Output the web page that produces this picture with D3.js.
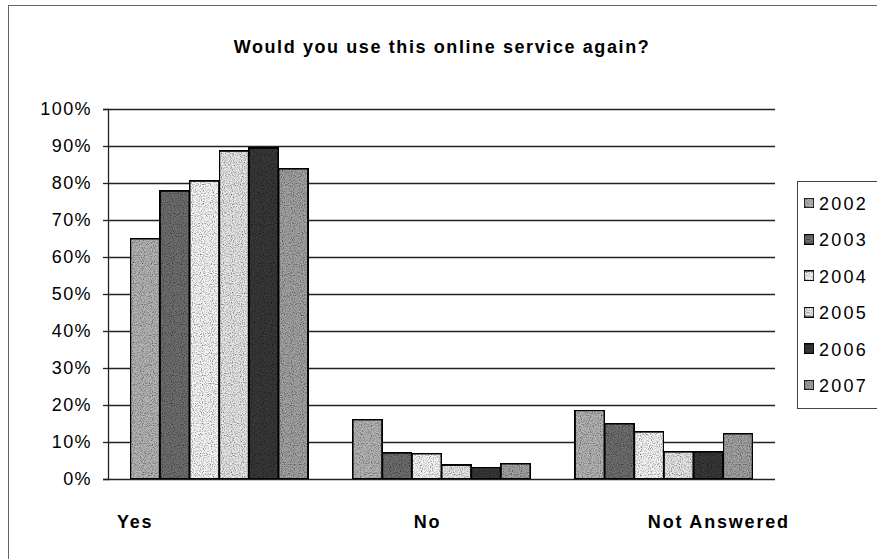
<!DOCTYPE html>
<html>
<head>
<meta charset="utf-8">
<script src="https://cdn.jsdelivr.net/npm/d3@7/dist/d3.min.js"></script>
<style>
  html, body { margin: 0; padding: 0; background: #fff; }
  svg { display: block; }
  text { font-family: "Liberation Sans", Arial, sans-serif; fill: #000; }
</style>
</head>
<body>
<svg id="chart" width="877" height="559"></svg>
<script>
// ---- data ----
const categories = ["Yes", "No", "Not Answered"];
const years = ["2002", "2003", "2004", "2005", "2006", "2007"];
const values2002 = [0.650, 0.161, 0.186];
const values2003 = [0.779, 0.071, 0.150];
const values2004 = [0.806, 0.069, 0.128];
const values2005 = [0.887, 0.038, 0.074];
const values2006 = [0.895, 0.032, 0.074];
const values2007 = [0.839, 0.042, 0.123];
const yTicks = [0, 0.1, 0.2, 0.3, 0.4, 0.5, 0.6, 0.7, 0.8, 0.9, 1.0];
const title = "Would you use this online service again?";

const seriesValues = [values2002, values2003, values2004, values2005, values2006, values2007];
const fills = ["#b4b4b4", "#6e6e6e", "#f6f6f6", "#e6e6e6", "#383838", "#a2a2a2"];

const svg = d3.select("#chart");

// grain filter to imitate the stippled scan
const defs = svg.append("defs");
const f = defs.append("filter").attr("id", "grain").attr("x", 0).attr("y", 0).attr("width", 1).attr("height", 1);
f.append("feTurbulence").attr("type", "fractalNoise").attr("baseFrequency", 0.9).attr("numOctaves", 1).attr("seed", 3).attr("result", "noise");
f.append("feColorMatrix").attr("in", "noise").attr("type", "matrix")
  .attr("values", "0 0 0 0 0  0 0 0 0 0  0 0 0 0 0  0 0 0 -2.2 1.25").attr("result", "dots");
f.append("feComposite").attr("in", "dots").attr("in2", "SourceGraphic").attr("operator", "in").attr("result", "dotsIn");
f.append("feComposite").attr("in", "dotsIn").attr("in2", "SourceGraphic").attr("operator", "over");

// outer frame
svg.append("rect").attr("x", 8.5).attr("y", 5.5).attr("width", 900).attr("height", 600)
  .attr("fill", "none").attr("stroke", "#666").attr("stroke-width", 1);

const plot = { left: 108, right: 775, top: 109, bottom: 479 };

const x0 = d3.scaleBand().domain(categories).range([plot.left, plot.right]).paddingInner(0).paddingOuter(0);
const x1 = d3.scaleBand().domain(years).range([0, x0.bandwidth()]).paddingInner(0).paddingOuter(0.75);
const y = d3.scaleLinear().domain([0, 1]).range([plot.bottom, plot.top]);

// gridlines
svg.append("g").selectAll("line").data(yTicks).join("line")
  .attr("x1", plot.left).attr("x2", plot.right)
  .attr("y1", d => Math.round(y(d)) + 0.5).attr("y2", d => Math.round(y(d)) + 0.5)
  .attr("stroke", "#222").attr("stroke-width", 1.3);

// y axis
const yAxis = d3.axisLeft(y).tickValues(yTicks).tickFormat(d3.format(".0%")).tickSize(5).tickPadding(11);
const gy = svg.append("g").attr("transform", `translate(${plot.left},0)`).call(yAxis);
gy.select(".domain").attr("stroke", "#222").attr("stroke-width", 1.3);
gy.selectAll(".tick line").attr("stroke", "#222").attr("stroke-width", 1.3);
gy.selectAll(".tick text").attr("font-size", 18).attr("letter-spacing", 1.4)
  .attr("font-family", "Liberation Sans, Arial, sans-serif").attr("fill", "#000");

// bars
const groups = svg.append("g").selectAll("g").data(categories).join("g")
  .attr("transform", d => `translate(${x0(d)},0)`);
groups.selectAll("rect").data((c, ci) => years.map((yr, si) => ({ yr, si, v: seriesValues[si][ci] })))
  .join("rect")
  .attr("x", d => x1(d.yr))
  .attr("width", x1.bandwidth())
  .attr("y", d => y(d.v))
  .attr("height", d => y(0) - y(d.v))
  .attr("fill", d => fills[d.si])
  .attr("filter", "url(#grain)")
  .attr("stroke", "#000").attr("stroke-width", 2);

// category labels
const catOffsets = { "Yes": -84, "No": -14, "Not Answered": 55 };
svg.append("g").selectAll("text").data(categories).join("text")
  .attr("x", d => x0(d) + x0.bandwidth() / 2 + catOffsets[d])
  .attr("y", 528)
  .attr("text-anchor", "middle")
  .attr("font-size", 18).attr("font-weight", "bold").attr("letter-spacing", 1.8)
  .text(d => d);

// title
svg.append("text").attr("x", 442).attr("y", 53).attr("text-anchor", "middle")
  .attr("font-size", 18).attr("font-weight", "bold").attr("letter-spacing", 1.6)
  .text(title);

// legend
const leg = svg.append("g");
leg.append("rect").attr("x", 797.5).attr("y", 181.5).attr("width", 100).attr("height", 227)
  .attr("fill", "#fff").attr("stroke", "#444").attr("stroke-width", 1);
const ly = d3.scalePoint().domain(years).range([203, 385]);
const li = leg.selectAll("g.item").data(years).join("g").attr("class", "item")
  .attr("transform", d => `translate(0,${ly(d)})`);
li.append("rect").attr("x", 804).attr("y", -5).attr("width", 10).attr("height", 10)
  .attr("fill", (d, i) => fills[i]).attr("filter", "url(#grain)")
  .attr("stroke", "#000").attr("stroke-width", 1.5);
li.append("text").attr("x", 819).attr("y", 7).attr("font-size", 18).attr("letter-spacing", 2.2)
  .text(d => d);
</script>
</body>
</html>
